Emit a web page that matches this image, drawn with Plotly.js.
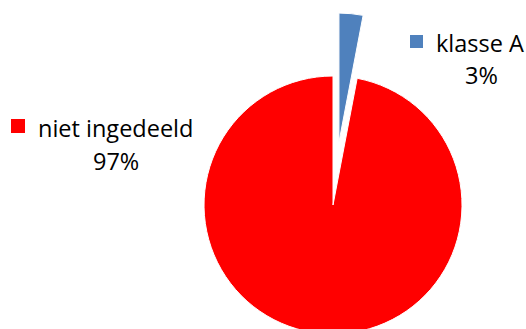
<!DOCTYPE html>
<html>
<head>
<meta charset="utf-8">
<script src="https://cdn.plot.ly/plotly-3.0.1.min.js"></script>
<style>
html,body{margin:0;padding:0;overflow:hidden;background:#fff;}
#chart{width:526px;height:400px;}
</style>
</head>
<body>
<div id="chart"></div>
<script>
const categories = ["klasse A", "niet ingedeeld"];
const values = [3, 97];
const percentLabels = ["3%", "97%"];
const colors = ["#4F81BD", "#FF0000"];

const W = 526, H = 400;
const px = x => x / W;
const py = y => 1 - y / H;

const trace = {
  type: "pie",
  labels: categories,
  values: values,
  sort: false,
  direction: "clockwise",
  rotation: 0,
  pull: [0.49, 0],
  textinfo: "none",
  hoverinfo: "label+percent",
  marker: {colors: colors, line: {color: "#ffffff", width: 1}},
  domain: {x: [0.2677, 0.9985], y: [0.007, 0.968]},
  showlegend: false
};

const font = {family: "Open Sans, Noto Sans, sans-serif", size: 23.5, color: "#000000"};

const layout = {
  width: W, height: H,
  margin: {l: 0, r: 0, t: 0, b: 0},
  paper_bgcolor: "#ffffff",
  showlegend: false,
  shapes: [
    {type: "rect", xref: "paper", yref: "paper", x0: px(410), x1: px(423), y0: py(48), y1: py(35), fillcolor: colors[0], line: {width: 0}},
    {type: "rect", xref: "paper", yref: "paper", x0: px(11), x1: px(25), y0: py(133), y1: py(119), fillcolor: colors[1], line: {width: 0}}
  ],
  annotations: [
    {xref: "paper", yref: "paper", x: px(434), y: py(43), xanchor: "left", yanchor: "middle", text: categories[0], showarrow: false, font: font},
    {xref: "paper", yref: "paper", x: px(481), y: py(75), xanchor: "center", yanchor: "middle", text: percentLabels[0], showarrow: false, font: font},
    {xref: "paper", yref: "paper", x: px(36), y: py(128), xanchor: "left", yanchor: "middle", text: categories[1], showarrow: false, font: font},
    {xref: "paper", yref: "paper", x: px(116), y: py(161), xanchor: "center", yanchor: "middle", text: percentLabels[1], showarrow: false, font: font}
  ]
};

Plotly.newPlot("chart", [trace], layout, {displayModeBar: false, staticPlot: true});
</script>
</body>
</html>
